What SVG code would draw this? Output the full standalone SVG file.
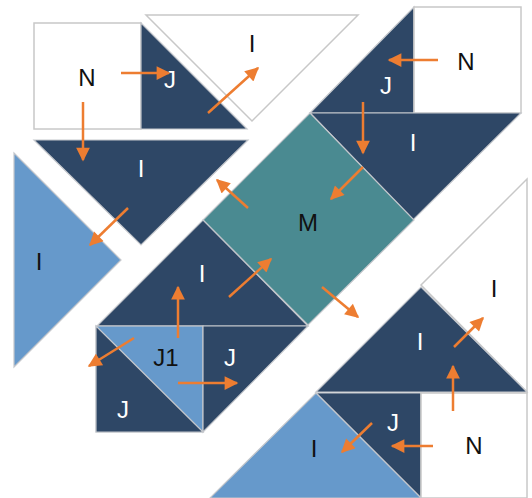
<svg xmlns="http://www.w3.org/2000/svg" width="532" height="498" viewBox="0 0 532 498">
<defs>
<style>
.dk{fill:#2e4766;stroke:#c4c7cc;stroke-width:1.2}
.lb{fill:#6699cb;stroke:#c4c7cc;stroke-width:1.2}
.wh{fill:#ffffff;stroke:#c8c8c8;stroke-width:1.5}
.tl{fill:#4a8a91;stroke:#c4c7cc;stroke-width:1.2}
text{font-family:"Liberation Sans",Arial,sans-serif;font-size:24px;text-anchor:middle}
.tw{fill:#ffffff}
.tb{fill:#111111}
.ar{stroke:#ed7d31;stroke-width:2.5;fill:none;marker-end:url(#ah)}
</style>
<marker id="ah" viewBox="0 0 10 10" refX="9" refY="5" markerWidth="6.5" markerHeight="5.5" orient="auto" markerUnits="strokeWidth">
<path d="M0,0 L10,5 L0,10 z" fill="#ed7d31"/>
</marker>
</defs>
<rect width="532" height="498" fill="#ffffff"/>

<g id="n-tl"><rect class="wh" x="34" y="23" width="107" height="106"/><text class="tb" x="87" y="86">N</text></g>
<g id="j-tl"><polygon class="dk" points="141,23 141,129 247,129"/><text class="tw" x="170" y="88">J</text></g>
<g id="i-top"><polygon class="wh" points="146,15 358,15 252,121"/><text class="tb" x="252" y="52">I</text></g>
<g id="i-big"><polygon class="dk" points="34,140 248,140 141,245"/><text class="tw" x="141" y="177">I</text></g>
<g id="i-left"><polygon class="lb" points="14,153 14,367 121,260"/><text class="tb" x="39" y="270">I</text></g>

<g id="j-tr"><polygon class="dk" points="414,7 414,113 310,113"/><text class="tw" x="386" y="94">J</text></g>
<g id="n-tr"><rect class="wh" x="414" y="7" width="107" height="106"/><text class="tb" x="466" y="70">N</text></g>
<g id="i-tr"><polygon class="dk" points="310,113 521,113 413,220"/><text class="tw" x="413" y="151">I</text></g>
<g id="m"><polygon class="tl" points="310,113 414,220 308,325 203,220"/><text class="tb" x="308" y="231">M</text></g>

<g id="i-mid"><polygon class="dk" points="97,326 203,220 308,326"/><text class="tw" x="202" y="282">I</text></g>
<g id="j1"><rect class="lb" x="96" y="326" width="107" height="106"/><polygon class="dk" points="96,326 203,432 96,432"/><text class="tb" x="166" y="366">J1</text><text class="tw" x="123" y="418">J</text></g>
<g id="j-mid"><polygon class="dk" points="203,326 308,326 203,432"/><text class="tw" x="230" y="366">J</text></g>

<g id="i-rw"><polygon class="wh" points="421,285 527,179 527,392"/><text class="tb" x="494" y="297">I</text></g>
<g id="i-rd"><polygon class="dk" points="421,287 527,392 316,392"/><text class="tw" x="420" y="350">I</text></g>
<g id="j-br"><polygon class="dk" points="316,393 421,393 421,498"/><text class="tw" x="393" y="431">J</text></g>
<g id="n-br"><rect class="wh" x="421" y="393" width="106" height="105"/><text class="tb" x="474" y="454">N</text></g>
<g id="i-bl"><polygon class="lb" points="316,393 421,498 210,498"/><text class="tb" x="314" y="457">I</text></g>

<g id="connectors">
<line class="ar" x1="121" y1="73" x2="169" y2="73"/>
<line class="ar" x1="83" y1="102" x2="83" y2="160"/>
<line class="ar" x1="208" y1="113" x2="258" y2="68"/>
<line class="ar" x1="128" y1="208" x2="90" y2="245"/>
<line class="ar" x1="248" y1="208" x2="217" y2="180"/>
<line class="ar" x1="438" y1="60" x2="389" y2="60"/>
<line class="ar" x1="363" y1="102" x2="363" y2="153"/>
<line class="ar" x1="363" y1="167" x2="331" y2="199"/>
<line class="ar" x1="229" y1="297" x2="271" y2="259"/>
<line class="ar" x1="178" y1="338" x2="178" y2="287"/>
<line class="ar" x1="134" y1="338" x2="89" y2="366"/>
<line class="ar" x1="178" y1="383" x2="237" y2="383"/>
<line class="ar" x1="322" y1="287" x2="358" y2="317"/>
<line class="ar" x1="454" y1="347" x2="483" y2="318"/>
<line class="ar" x1="453" y1="411" x2="453" y2="366"/>
<line class="ar" x1="433" y1="446" x2="392" y2="446"/>
<line class="ar" x1="372" y1="423" x2="342" y2="452"/>
</g>
</svg>
